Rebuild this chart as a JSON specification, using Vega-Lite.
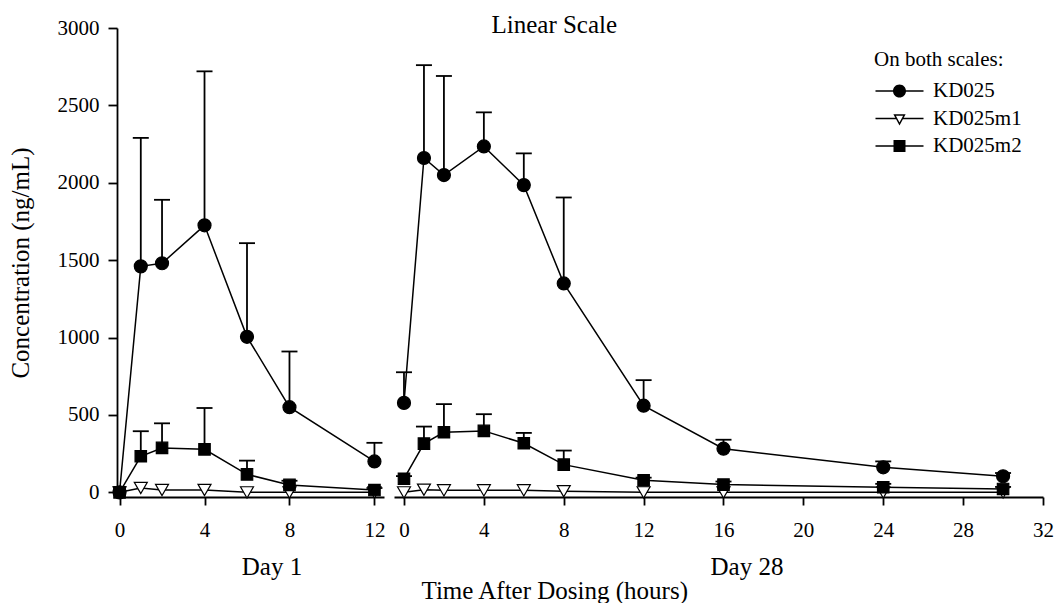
{
  "$schema": "https://vega.github.io/schema/vega-lite/v6.json",
  "padding": {"left": 8, "top": 13, "right": 0, "bottom": 0},
  "background": "white",
  "data": {"values": [
    {"day": "Day 1", "t": 0, "s": "KD025", "v": 0, "err": null},
    {"day": "Day 1", "t": 1, "s": "KD025", "v": 1460, "err": 2290},
    {"day": "Day 1", "t": 2, "s": "KD025", "v": 1480, "err": 1890},
    {"day": "Day 1", "t": 4, "s": "KD025", "v": 1725, "err": 2720},
    {"day": "Day 1", "t": 6, "s": "KD025", "v": 1005, "err": 1610},
    {"day": "Day 1", "t": 8, "s": "KD025", "v": 550, "err": 910},
    {"day": "Day 1", "t": 12, "s": "KD025", "v": 200, "err": 320},
    {"day": "Day 1", "t": 0, "s": "KD025m1", "v": 0, "err": null},
    {"day": "Day 1", "t": 1, "s": "KD025m1", "v": 28, "err": null},
    {"day": "Day 1", "t": 2, "s": "KD025m1", "v": 15, "err": null},
    {"day": "Day 1", "t": 4, "s": "KD025m1", "v": 15, "err": null},
    {"day": "Day 1", "t": 6, "s": "KD025m1", "v": 0, "err": null},
    {"day": "Day 1", "t": 8, "s": "KD025m1", "v": 0, "err": null},
    {"day": "Day 1", "t": 12, "s": "KD025m1", "v": 0, "err": null},
    {"day": "Day 1", "t": 0, "s": "KD025m2", "v": 0, "err": null},
    {"day": "Day 1", "t": 1, "s": "KD025m2", "v": 233, "err": 395},
    {"day": "Day 1", "t": 2, "s": "KD025m2", "v": 287, "err": 446},
    {"day": "Day 1", "t": 4, "s": "KD025m2", "v": 278, "err": 545},
    {"day": "Day 1", "t": 6, "s": "KD025m2", "v": 116, "err": 205},
    {"day": "Day 1", "t": 8, "s": "KD025m2", "v": 48, "err": 75},
    {"day": "Day 1", "t": 12, "s": "KD025m2", "v": 15, "err": 28},
    {"day": "Day 28", "t": 0, "s": "KD025", "v": 578, "err": 776},
    {"day": "Day 28", "t": 1, "s": "KD025", "v": 2160, "err": 2760},
    {"day": "Day 28", "t": 2, "s": "KD025", "v": 2050, "err": 2690},
    {"day": "Day 28", "t": 4, "s": "KD025", "v": 2235, "err": 2455},
    {"day": "Day 28", "t": 6, "s": "KD025", "v": 1985, "err": 2190},
    {"day": "Day 28", "t": 8, "s": "KD025", "v": 1350, "err": 1905},
    {"day": "Day 28", "t": 12, "s": "KD025", "v": 560, "err": 725},
    {"day": "Day 28", "t": 16, "s": "KD025", "v": 282, "err": 340},
    {"day": "Day 28", "t": 24, "s": "KD025", "v": 162, "err": 200},
    {"day": "Day 28", "t": 30, "s": "KD025", "v": 104, "err": 125},
    {"day": "Day 28", "t": 0, "s": "KD025m1", "v": 0, "err": null},
    {"day": "Day 28", "t": 1, "s": "KD025m1", "v": 17, "err": null},
    {"day": "Day 28", "t": 2, "s": "KD025m1", "v": 13, "err": null},
    {"day": "Day 28", "t": 4, "s": "KD025m1", "v": 13, "err": null},
    {"day": "Day 28", "t": 6, "s": "KD025m1", "v": 13, "err": null},
    {"day": "Day 28", "t": 8, "s": "KD025m1", "v": 7, "err": null},
    {"day": "Day 28", "t": 12, "s": "KD025m1", "v": 0, "err": null},
    {"day": "Day 28", "t": 16, "s": "KD025m1", "v": 0, "err": null},
    {"day": "Day 28", "t": 24, "s": "KD025m1", "v": 0, "err": null},
    {"day": "Day 28", "t": 30, "s": "KD025m1", "v": 0, "err": null},
    {"day": "Day 28", "t": 0, "s": "KD025m2", "v": 88, "err": 105},
    {"day": "Day 28", "t": 1, "s": "KD025m2", "v": 315, "err": 425},
    {"day": "Day 28", "t": 2, "s": "KD025m2", "v": 388, "err": 570},
    {"day": "Day 28", "t": 4, "s": "KD025m2", "v": 397, "err": 505},
    {"day": "Day 28", "t": 6, "s": "KD025m2", "v": 317, "err": 384},
    {"day": "Day 28", "t": 8, "s": "KD025m2", "v": 179, "err": 270},
    {"day": "Day 28", "t": 12, "s": "KD025m2", "v": 78, "err": 95},
    {"day": "Day 28", "t": 16, "s": "KD025m2", "v": 50, "err": 70},
    {"day": "Day 28", "t": 24, "s": "KD025m2", "v": 33, "err": 55},
    {"day": "Day 28", "t": 30, "s": "KD025m2", "v": 22, "err": 35}
  ]},
  "title": {"text": "Time After Dosing (hours)", "orient": "bottom", "anchor": "middle", "dx": 24, "fontSize": 25, "font": "Liberation Serif", "fontWeight": "normal", "color": "black", "offset": 0},
  "spacing": 10,
  "bounds": "flush",
  "resolve": {
    "scale": {"x": "independent", "y": "independent", "shape": "independent"},
    "legend": {"shape": "independent"}
  },
  "config": {
    "font": "Liberation Serif",
    "view": {"stroke": null},
    "axis": {"grid": false, "domainColor": "black", "domainWidth": 1.8, "tickColor": "black", "tickWidth": 1.8, "labelFont": "Liberation Serif", "labelFontSize": 21, "labelColor": "black", "titleFont": "Liberation Serif", "titleFontSize": 25, "titleFontWeight": "normal", "titleColor": "black", "labelFlush": false, "labelOverlap": false},
    "title": {"font": "Liberation Serif", "fontSize": 25, "fontWeight": "normal", "color": "black"}
  },
  "hconcat": [
    {
      "width": 267,
      "height": 469,
      "transform": [{"filter": "datum.day === 'Day 1'"}],
      "encoding": {
        "x": {"field": "t", "type": "quantitative", "scale": {"domain": [-0.12, 12.45], "nice": false, "zero": false},
              "axis": {"values": [0, 4, 8, 12], "title": "Day 1", "titleX": 154.5, "titleY": 77, "titleBaseline": "alphabetic", "titleAlign": "center", "tickSize": 8, "labelPadding": 14}},
        "y": {"field": "v", "type": "quantitative", "scale": {"domain": [-30, 3000], "nice": false, "zero": false},
              "axis": {"values": [0, 500, 1000, 1500, 2000, 2500, 3000], "format": "d", "title": "Concentration (ng/mL)", "tickSize": 9, "labelPadding": 9, "titlePadding": 24}}
      },
      "layer": [
        {"transform": [{"filter": "isValid(datum.err)"}], "mark": {"type": "rule", "stroke": "black", "strokeWidth": 1.8}, "encoding": {"y2": {"field": "err"}}},
        {"transform": [{"filter": "isValid(datum.err)"}], "mark": {"type": "tick", "orient": "horizontal", "size": 16, "thickness": 1.8, "color": "black", "opacity": 1},
         "encoding": {"y": {"field": "err", "type": "quantitative", "axis": {"values": [0, 500, 1000, 1500, 2000, 2500, 3000], "format": "d", "title": "Concentration (ng/mL)", "tickSize": 9, "labelPadding": 9, "titlePadding": 24}}}},
        {"mark": {"type": "line", "stroke": "black", "strokeWidth": 1.5}, "encoding": {"detail": {"field": "s"}}},
        {"mark": {"type": "point", "filled": true, "stroke": "black", "strokeWidth": 1.2, "opacity": 1, "size": 169},
         "encoding": {
           "shape": {"field": "s", "type": "nominal", "scale": {"domain": ["KD025", "KD025m1", "KD025m2"], "range": ["circle", "triangle-down", "M-0.88,-0.88L0.88,-0.88L0.88,0.88L-0.88,0.88Z"]}, "legend": null},
           "fill": {"condition": {"test": "datum.s === 'KD025m1'", "value": "white"}, "value": "black"}
         }},
        {"data": {"values": [{}]}, "mark": {"type": "rule", "stroke": "black", "strokeWidth": 1.5},
         "encoding": {"x": {"datum": 12.45}, "y": {"datum": 62}, "y2": {"datum": -130}}}
      ]
    },
    {
      "width": 649,
      "height": 469,
      "title": {"text": "Linear Scale", "anchor": "start", "dx": 111.5, "offset": -10, "fontSize": 25, "font": "Liberation Serif", "fontWeight": "normal", "color": "black"},
      "transform": [{"filter": "datum.day === 'Day 28'"}],
      "resolve": {
        "scale": {"shape": "independent"},
        "legend": {"shape": "independent"}
      },
      "encoding": {
        "x": {"field": "t", "type": "quantitative", "scale": {"domain": [-0.5, 32], "nice": false, "zero": false},
              "axis": {"values": [0, 4, 8, 12, 16, 20, 24, 28, 32], "title": "Day 28", "titleX": 352.5, "titleY": 77, "titleBaseline": "alphabetic", "titleAlign": "center", "tickSize": 8, "labelPadding": 14}},
        "y": {"field": "v", "type": "quantitative", "scale": {"domain": [-30, 3000], "nice": false, "zero": false}, "axis": null}
      },
      "layer": [
        {"transform": [{"filter": "isValid(datum.err)"}], "mark": {"type": "rule", "stroke": "black", "strokeWidth": 1.8}, "encoding": {"y2": {"field": "err"}}},
        {"transform": [{"filter": "isValid(datum.err)"}], "mark": {"type": "tick", "orient": "horizontal", "size": 16, "thickness": 1.8, "color": "black", "opacity": 1},
         "encoding": {"y": {"field": "err", "type": "quantitative", "axis": null}}},
        {"mark": {"type": "line", "stroke": "black", "strokeWidth": 1.5}, "encoding": {"detail": {"field": "s"}}},
        {"mark": {"type": "point", "filled": true, "stroke": "black", "strokeWidth": 1.2, "opacity": 1, "size": 169},
         "encoding": {
           "shape": {"field": "s", "type": "nominal", "scale": {"domain": ["KD025m2", "KD025m1", "KD025"], "range": ["M-0.88,-0.88L0.88,-0.88L0.88,0.88L-0.88,0.88Z", "triangle-down", "circle"]}, "legend": null},
           "fill": {"condition": {"test": "datum.s === 'KD025m1'", "value": "white"}, "value": "black"}
         }},
        {"mark": {"type": "point", "filled": true, "color": "black", "opacity": 0, "size": 196},
         "encoding": {
           "shape": {"field": "s", "type": "nominal",
             "scale": {"domain": ["KD025", "KD025m1", "KD025m2"], "range": [
               "M-3.43,-0.105L-0.9,-0.105L-0.9,0.105L-3.43,0.105ZM0.9,-0.105L3.43,-0.105L3.43,0.105L0.9,0.105ZM0.93,0A0.93,0.93,0,1,1,-0.93,0A0.93,0.93,0,1,1,0.93,0Z",
               "M-3.43,-0.105L-0.455,-0.105L-0.455,0.105L-3.43,0.105ZM0.455,-0.105L3.43,-0.105L3.43,0.105L0.455,0.105ZM-0.875,-0.595L0.875,-0.595L0,1.015ZM-0.516,-0.3815L0,0.567L0.516,-0.3815Z",
               "M-3.43,-0.105L-0.84,-0.105L-0.84,0.105L-3.43,0.105ZM0.84,-0.105L3.43,-0.105L3.43,0.105L0.84,0.105ZM-0.857,-0.857L0.857,-0.857L0.857,0.857L-0.857,0.857Z"]},
             "legend": {"title": "On both scales:", "orient": "none", "legendX": 480, "legendY": 21,
               "titleFont": "Liberation Serif", "titleFontSize": 21, "titleFontWeight": "normal", "titleColor": "black",
               "labelFont": "Liberation Serif", "labelFontSize": 21, "labelColor": "black",
               "symbolSize": 196, "symbolOffset": 15, "labelOffset": 23, "rowPadding": 5.5, "titlePadding": 10.5,
               "symbolStrokeWidth": 0, "symbolFillColor": "black", "symbolOpacity": 1}}
         }},
        {"data": {"values": [{}]}, "mark": {"type": "rule", "stroke": "black", "strokeWidth": 1.5},
         "encoding": {"x": {"datum": -0.5}, "y": {"datum": 62}, "y2": {"datum": -130}}}
      ]
    }
  ]
}
